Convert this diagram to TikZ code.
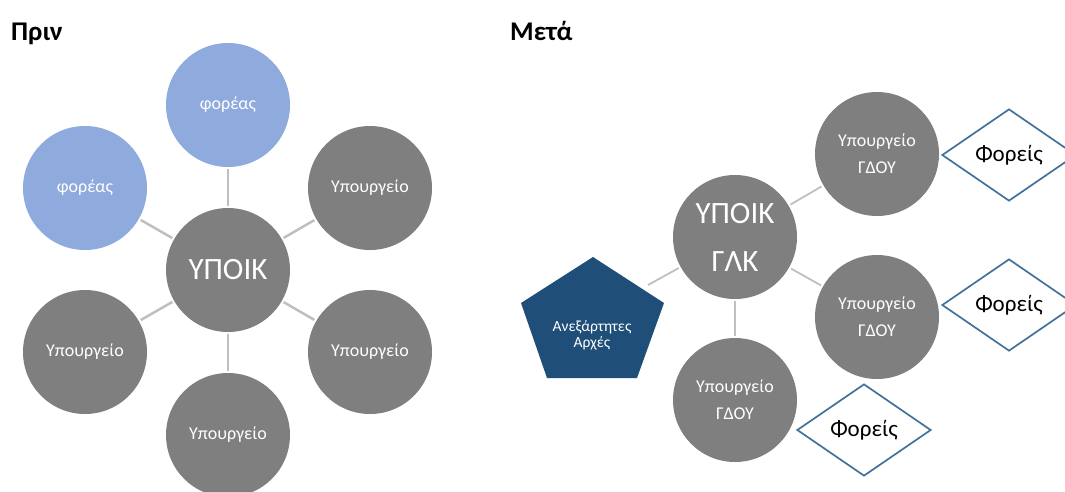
\documentclass[tikz,border=0pt]{standalone}
\usepackage{fontspec}
\setmainfont{Carlito}
\usepackage{xcolor}
\usetikzlibrary{shapes.geometric}
\definecolor{ministry}{RGB}{127,127,127}
\definecolor{agency}{RGB}{143,170,220}
\definecolor{spoke}{RGB}{191,191,191}
\definecolor{authority}{RGB}{31,78,121}
\definecolor{bodyline}{RGB}{65,113,156}

\begin{document}
\begin{tikzpicture}[x=1pt,y=-1pt,
  hub/.style={circle,fill=ministry,text=white,inner sep=0pt,minimum size=124pt,align=center,font=\fontsize{31}{48}\selectfont},
  dept/.style={circle,fill=ministry,text=white,inner sep=0pt,minimum size=124pt,align=center,font=\fontsize{18}{27}\selectfont},
  agent/.style={dept,fill=agency},
  bodies/.style={diamond,draw=bodyline,line width=1.7pt,fill=white,inner sep=0pt,aspect=1.46,minimum width=134pt,minimum height=92pt,font=\fontsize{23}{28}\selectfont},
  authtext/.style={text=white,align=center,inner sep=0pt,font=\fontsize{15.5}{16}\selectfont},
  spokeL/.style={draw=spoke,line width=2.5pt,shorten <=2pt,shorten >=2pt},
  spokeR/.style={draw=spoke,line width=1.8pt,shorten <=2pt,shorten >=2pt},
  heading/.style={anchor=base west,inner sep=0pt,font=\fontsize{27}{32}\selectfont\bfseries}]
  \useasboundingbox (0,0) rectangle (1065,491);
  \node[heading] (before) at (11,40) {Πριν};
  \node[heading] (after) at (510,40) {Μετά};
  % Πριν
  \node[hub] (fin) at (228,270) {ΥΠΟΙΚ};
  \node[agent] (agtop) at (228,105) {φορέας};
  \node[agent] (agleft) at (85,188) {φορέας};
  \node[dept] (minNE) at (370,188) {Υπουργείο};
  \node[dept] (minSE) at (370,352) {Υπουργείο};
  \node[dept] (minS) at (228,435) {Υπουργείο};
  \node[dept] (minSW) at (85,352) {Υπουργείο};
  \foreach \n in {agtop,agleft,minNE,minSE,minS,minSW}
    \draw[spokeL] (fin) -- (\n);
  % Μετά
  \node[hub] (gfin) at (735,237) {ΥΠΟΙΚ\\ΓΛΚ};
  \node[dept] (gdN) at (877,154) {Υπουργείο\\ΓΔΟΥ};
  \node[dept] (gdE) at (877,317) {Υπουργείο\\ΓΔΟΥ};
  \node[dept] (gdS) at (735,400) {Υπουργείο\\ΓΔΟΥ};
  \node[bodies] (bodN) at (1009,155) {Φορείς};
  \node[bodies] (bodE) at (1009,305) {Φορείς};
  \node[bodies] (bodS) at (864,430) {Φορείς};
  \fill[authority] (593,257) -- (664,303) -- (637,378) -- (547,378) -- (521,303) -- cycle;
  \node[authtext] (indep) at (592,335) {Ανεξάρτητες\\Αρχές};
  \coordinate (indedge) at (648,285);
  \foreach \n in {gdN,gdE,gdS}
    \draw[spokeR] (gfin) -- (\n);
  \draw[spokeR,shorten >=0pt] (gfin) -- (indedge);
\end{tikzpicture}
\end{document}
